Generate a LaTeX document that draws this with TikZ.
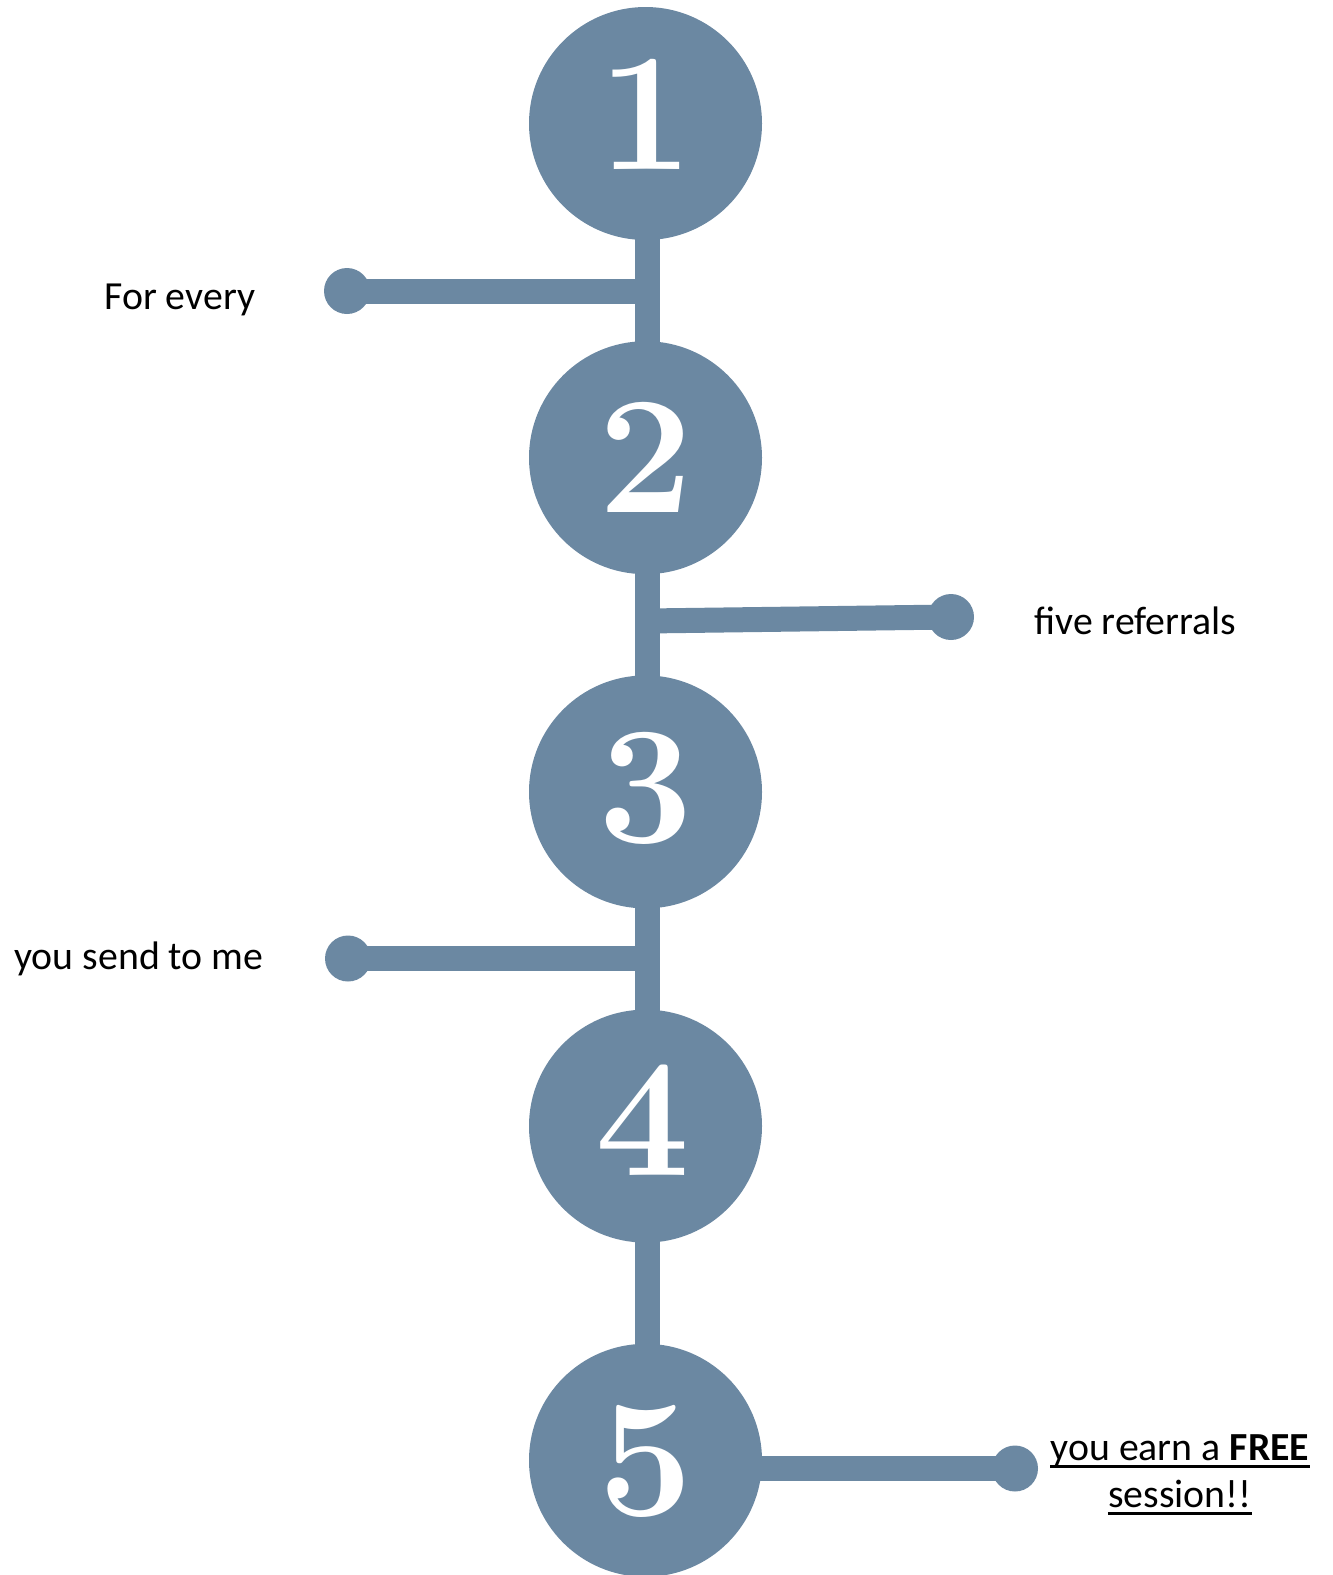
\documentclass[tikz,border=0pt]{standalone}
\usepackage{fontspec}
\setsansfont{Carlito}
\definecolor{steel}{RGB}{107,136,162}
\begin{document}
\begin{tikzpicture}[x=0.5pt,y=-0.5pt,
  bubble/.style={circle,fill=steel,inner sep=0pt,minimum size=116.5pt},
  knob/.style={circle,fill=steel,inner sep=0pt,minimum size=23pt},
  stem/.style={draw=steel,line width=12.5pt},
  arm/.style={draw=steel,line width=12.5pt},
  uline/.style={draw=black,line width=1.5pt},
  digit/.style={anchor=base,text=white,inner sep=0pt,font=\bfseries\fontsize{84}{84}\selectfont},
  lbl/.style={anchor=base west,inner sep=0pt,font=\sffamily\fontsize{19.9}{23}\selectfont}]
\useasboundingbox (0,0) rectangle (1333,1575);
% backbone
\coordinate (top) at (647,123.5);
\coordinate (bot) at (647,1460.3);
\draw[stem] (top) -- (bot);
% branches
\coordinate (j1) at (647,291);
\coordinate (j2) at (647,621);
\coordinate (j3) at (647,958.5);
\coordinate (j5) at (647,1468.5);
\node[knob] (d1) at (347,291) {};
\node[knob] (d2) at (951,617) {};
\node[knob] (d3) at (348,958.5) {};
\node[knob] (d5) at (1015,1468.5) {};
\draw[arm] (j1) -- (d1.center);
\draw[arm] (j2) -- (d2.center);
\draw[arm] (j3) -- (d3.center);
\draw[arm] (j5) -- (d5.center);
% circles
\node[bubble] (c1) at (645.5,123.5) {};
\node[bubble] (c2) at (645.5,457.7) {};
\node[bubble] (c3) at (645.5,791.9) {};
\node[bubble] (c4) at (645.5,1126.1) {};
\node[bubble] (c5) at (645.5,1460.3) {};
\node[digit] (t1) at (646,169) {1};
\node[digit] (t2) at (646,512) {2};
\node[digit] (t3) at (646,842) {3};
\node[digit] (t4) at (643,1175) {4};
\node[digit] (t5) at (646,1515) {5};
% labels
\node[lbl] (l1) at (104,309) {For every};
\node[lbl] (l2) at (1034,634) {five referrals};
\node[lbl] (l3) at (14,969) {you send to me};
\node[lbl,anchor=base] (l5) at (1180,1460) {you earn a \textbf{FREE}};
\node[lbl,anchor=base] (l6) at (1180,1507) {session!!};
\draw[uline] ([yshift=-3pt]l5.base west) -- ([yshift=-3pt]l5.base east);
\draw[uline] ([yshift=-3pt]l6.base west) -- ([yshift=-3pt]l6.base east);
\end{tikzpicture}
\end{document}
